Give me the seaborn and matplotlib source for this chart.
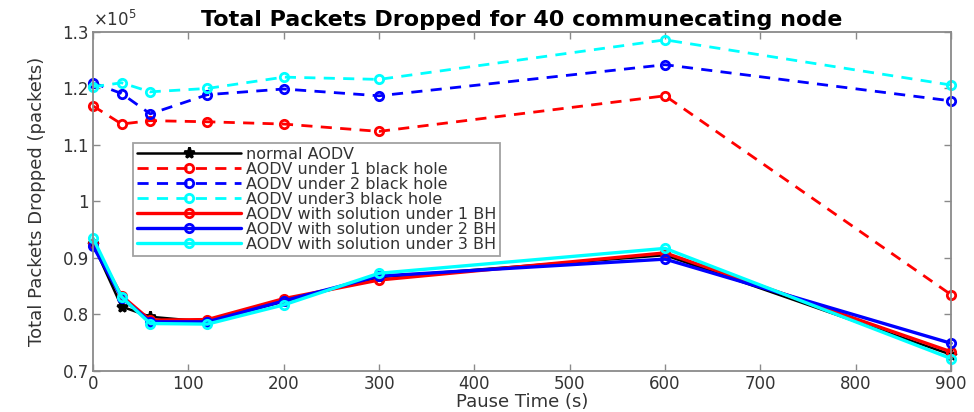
import matplotlib
matplotlib.use("Agg")
import matplotlib.pyplot as plt
import seaborn as sns
from matplotlib.ticker import FuncFormatter

# values in units of 1e5 packets
pause_time = [0, 30, 60, 120, 200, 300, 600, 900]

normal_aodv = [0.925, 0.814, 0.796, 0.787, 0.823, 0.866, 0.905, 0.729]
under_1_bh = [1.169, 1.137, 1.143, 1.141, 1.137, 1.124, 1.187, 0.835]
under_2_bh = [1.210, 1.191, 1.155, 1.189, 1.199, 1.187, 1.242, 1.178]
under_3_bh = [1.203, 1.210, 1.194, 1.200, 1.220, 1.216, 1.286, 1.206]
sol_1_bh = [0.925, 0.833, 0.790, 0.791, 0.828, 0.861, 0.909, 0.734]
sol_2_bh = [0.921, 0.830, 0.787, 0.787, 0.824, 0.868, 0.898, 0.749]
sol_3_bh = [0.935, 0.831, 0.784, 0.783, 0.817, 0.873, 0.917, 0.722]

x_ticks = [0, 100, 200, 300, 400, 500, 600, 700, 800, 900]
y_ticks = [0.7, 0.8, 0.9, 1.0, 1.1, 1.2, 1.3]

sns.set_theme(style="ticks")
plt.rcParams.update({
    "font.family": ["DejaVu Sans"],
    "xtick.direction": "in",
    "ytick.direction": "in",
})

AX_GRAY = "#8a8a8a"
TXT_GRAY = "#333333"
DASH = (0, (4, 3))

fig = plt.figure(figsize=(9.74, 4.12), dpi=100)
ax = fig.add_axes([0.0955, 0.0995, 0.881, 0.823])

series = [
    (normal_aodv, "black", "-", "*", 1.8, "normal AODV"),
    (under_1_bh, "#ff0000", DASH, "o", 2.0, "AODV under 1 black hole"),
    (under_2_bh, "#0000ff", DASH, "o", 2.0, "AODV under 2 black hole"),
    (under_3_bh, "#00ffff", DASH, "o", 2.0, "AODV under3 black hole"),
    (sol_1_bh, "#ff0000", "-", "o", 2.4, "AODV with solution under 1 BH"),
    (sol_2_bh, "#0000ff", "-", "o", 2.4, "AODV with solution under 2 BH"),
    (sol_3_bh, "#00ffff", "-", "o", 2.4, "AODV with solution under 3 BH"),
]
for vals, col, ls, mk, lw, lab in series:
    sns.lineplot(x=pause_time, y=vals, color=col, linestyle=ls, marker=mk,
                 markersize=6 if mk == "o" else 8,
                 markerfacecolor="none" if mk == "o" else col,
                 markeredgecolor=col, markeredgewidth=2.0, linewidth=lw,
                 label=lab, ax=ax, clip_on=False)

ax.set_xlim(0, 900)
ax.set_ylim(0.7, 1.3)
ax.set_xticks(x_ticks)
ax.set_yticks(y_ticks)
ax.yaxis.set_major_formatter(FuncFormatter(lambda v, p: f"{v:g}"))
ax.tick_params(axis="both", which="both", top=True, right=True, length=5,
               width=1.0, color=AX_GRAY, labelsize=12, labelcolor=TXT_GRAY, pad=3)
for s in ax.spines.values():
    s.set_color(AX_GRAY)
    s.set_linewidth(1.3)

ax.set_xlabel("Pause Time (s)", fontsize=13, color=TXT_GRAY, labelpad=0)
ax.set_ylabel("Total Packets Dropped (packets)", fontsize=13, color=TXT_GRAY, labelpad=12)
ax.set_title("Total Packets Dropped for 40 communecating node",
             fontsize=16, fontweight="bold", color="black", pad=4)
ax.text(0.0, 1.005, r"$\times10^{5}$", transform=ax.transAxes, ha="left",
        va="bottom", fontsize=12, color=TXT_GRAY)

leg = ax.legend(loc="upper left", bbox_to_anchor=(0.0466, 0.6726), borderaxespad=0,
                fontsize=11.5, frameon=True, fancybox=False, edgecolor=AX_GRAY,
                handlelength=6.5, handletextpad=0.3, labelspacing=0.0,
                borderpad=0.25, numpoints=1)
leg.get_frame().set_linewidth(1.3)
for t in leg.get_texts():
    t.set_color(TXT_GRAY)

fig.savefig("out.png", dpi=100)
